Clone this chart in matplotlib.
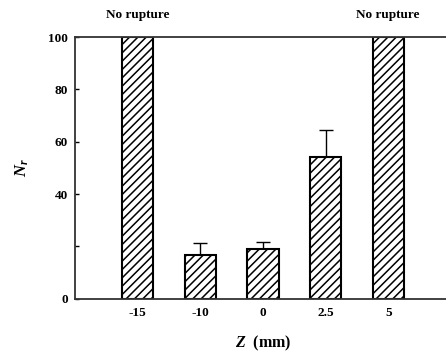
import numpy as np
import matplotlib
matplotlib.use('Agg')
import matplotlib.pyplot as plt

plt.rcParams['font.family'] = ['Liberation Serif', 'DejaVu Serif']
plt.rcParams['font.weight'] = 'bold'
plt.rcParams['mathtext.fontset'] = 'custom'
plt.rcParams['mathtext.it'] = 'Liberation Serif:italic:bold'
plt.rcParams['mathtext.rm'] = 'Liberation Serif:bold'
plt.rcParams['hatch.linewidth'] = 1.1

# dados
z_labels = ['-15', '-10', '0', '2.5', '5']
nr = [100, 16.8, 19.0, 54.0, 100]
nr_err = [0, 4.4, 2.8, 10.5, 0]
no_rupture = [True, False, False, False, True]

pos = np.arange(1, len(z_labels) + 1)

fig = plt.figure(figsize=(4.46, 3.53), dpi=100)
ax = fig.add_axes([0.168, 0.154, 0.843, 0.741])

ax.bar(pos, nr, width=0.5, color='white', edgecolor='black',
       linewidth=1.5, hatch='////', zorder=2)

idx = [i for i in range(len(nr)) if nr_err[i] > 0]
ax.errorbar(pos[idx], np.array(nr)[idx],
            yerr=[np.zeros(len(idx)), np.array(nr_err)[idx]],
            fmt='none', ecolor='black', elinewidth=1.0, capsize=4.7,
            capthick=1.0, zorder=1)

for i in range(len(nr)):
    if no_rupture[i]:
        ax.text(pos[i], 108.4, 'No rupture', ha='center', va='center',
                fontsize=9.5, fontweight='bold', clip_on=False)

ax.set_xlim(0, 6)
ax.set_ylim(0, 100)
ax.set_xticks(pos)
ax.set_xticklabels(z_labels)
ax.set_yticks([0, 20, 40, 60, 80, 100])
ax.set_yticklabels(['0', '', '40', '60', '80', '100'])
ax.tick_params(axis='x', length=0, pad=6, labelsize=9.5)
ax.tick_params(axis='y', direction='in', length=3, width=1, pad=5,
               labelsize=9.5)

for s in ['left', 'bottom', 'top']:
    ax.spines[s].set_color('#333333')
    ax.spines[s].set_linewidth(1.3)
ax.spines['right'].set_visible(False)

ax.set_xlabel('$Z$  (mm)', fontsize=11.5, fontweight='bold', labelpad=11)
ax.set_ylabel('$N_r$', fontsize=12, labelpad=12)

plt.savefig('out.png', dpi=100)
